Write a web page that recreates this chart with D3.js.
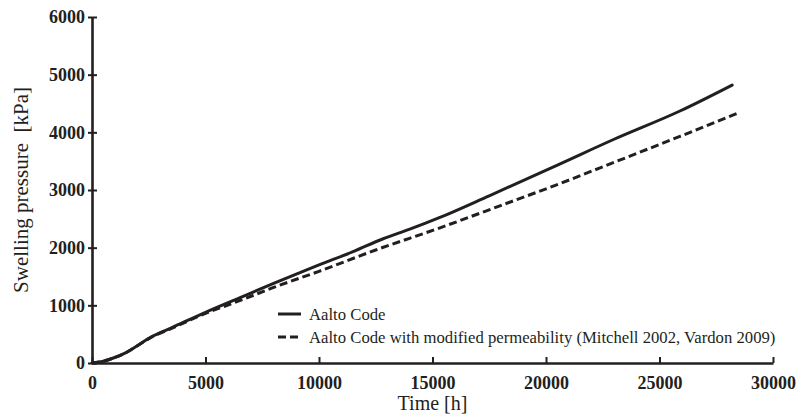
<!DOCTYPE html>
<html>
<head>
<meta charset="utf-8">
<script src="https://cdn.jsdelivr.net/npm/d3@7"></script>
<style>
  html, body { margin: 0; padding: 0; background: #fff; }
  svg { display: block; }
  text { font-family: "Liberation Serif", "Times New Roman", serif; fill: #231f20; }
</style>
</head>
<body>
<svg id="chart" width="800" height="420"></svg>
<script>
// ---- data ----
const seriesNames = ["Aalto Code", "Aalto Code with modified permeability (Mitchell 2002, Vardon 2009)"];
const aaltoTime = [0, 500, 1000, 1500, 2000, 2600, 3500, 5000, 6500, 8000, 10000, 11500, 12800, 14000, 15300, 17500, 20600, 23000, 25900, 28200];
const aaltoPressure = [0, 30, 95, 180, 300, 450, 610, 880, 1130, 1380, 1700, 1930, 2150, 2320, 2520, 2900, 3450, 3880, 4370, 4820];
const modTime = [0, 500, 1000, 1500, 2000, 2600, 3500, 5000, 6500, 8000, 10000, 12500, 15300, 18000, 20600, 23000, 25900, 28500];
const modPressure = [0, 30, 95, 180, 300, 445, 600, 860, 1080, 1310, 1590, 1960, 2340, 2730, 3110, 3480, 3930, 4340];
const xTicks = [0, 5000, 10000, 15000, 20000, 25000, 30000];
const yTicks = [0, 1000, 2000, 3000, 4000, 5000, 6000];
const xTitle = "Time [h]";
const yTitle = "Swelling pressure  [kPa]";

// ---- layout ----
const svg = d3.select("#chart");
const margin = { left: 92, right: 27, top: 17, bottom: 57 };
const W = 800, H = 420;
const x = d3.scaleLinear().domain([0, 30000]).range([margin.left, W - margin.right]);
const y = d3.scaleLinear().domain([0, 6000]).range([H - margin.bottom, margin.top]);
const ink = "#231f20";

// x axis
const gx = svg.append("g").attr("transform", `translate(0,${y(0)})`)
  .call(d3.axisBottom(x).tickValues(xTicks).tickFormat(d3.format("d")).tickSizeInner(-6).tickSizeOuter(0).tickPadding(16));
gx.attr("font-family", null);
gx.select(".domain").attr("stroke", ink).attr("stroke-width", 2.6);
gx.selectAll(".tick line").attr("stroke", ink).attr("stroke-width", 2);
gx.selectAll(".tick text").attr("font-size", 18).attr("font-weight", "bold")
  .attr("fill", ink).attr("dy", "0.55em");

// y axis
const gy = svg.append("g").attr("transform", `translate(${x(0)},0)`)
  .call(d3.axisLeft(y).tickValues(yTicks).tickFormat(d3.format("d")).tickSizeInner(4).tickSizeOuter(0).tickPadding(4));
gy.attr("font-family", null);
gy.select(".domain").attr("stroke", ink).attr("stroke-width", 2.6);
gy.selectAll(".tick line").attr("stroke", ink).attr("stroke-width", 2).attr("x2", 5).attr("x1", -4);
gy.selectAll(".tick text").attr("font-size", 18).attr("font-weight", "bold")
  .attr("fill", ink).attr("x", -7);

// titles
svg.append("text").attr("x", (x(0) + x(30000)) / 2).attr("y", 410)
  .attr("text-anchor", "middle").attr("font-size", 20).text(xTitle);
svg.append("text").attr("transform", `translate(28,${(y(0) + y(6000)) / 2}) rotate(-90)`)
  .attr("text-anchor", "middle").attr("font-size", 21).style("white-space", "pre").text(yTitle);

// lines
const line = d3.line().x(d => x(d[0])).y(d => y(d[1])).curve(d3.curveMonotoneX);
const aalto = aaltoTime.map((t, i) => [t, aaltoPressure[i]]);
const mod = modTime.map((t, i) => [t, modPressure[i]]);
svg.append("path").datum(mod).attr("d", line).attr("fill", "none")
  .attr("stroke", ink).attr("stroke-width", 3).attr("stroke-dasharray", "8,4");
svg.append("path").datum(aalto).attr("d", line).attr("fill", "none")
  .attr("stroke", ink).attr("stroke-width", 3).attr("stroke-linecap", "round");

// legend
const legend = svg.append("g");
const ly = [314, 337];
const dashes = [null, "8,4"];
seriesNames.forEach((name, i) => {
  legend.append("line").attr("x1", 278).attr("x2", 301).attr("y1", ly[i]).attr("y2", ly[i])
    .attr("stroke", ink).attr("stroke-width", 3).attr("stroke-dasharray", dashes[i]);
  legend.append("text").attr("x", 309).attr("y", ly[i]).attr("dy", "0.35em")
    .attr("font-size", 16.7).text(name);
});
</script>
</body>
</html>
